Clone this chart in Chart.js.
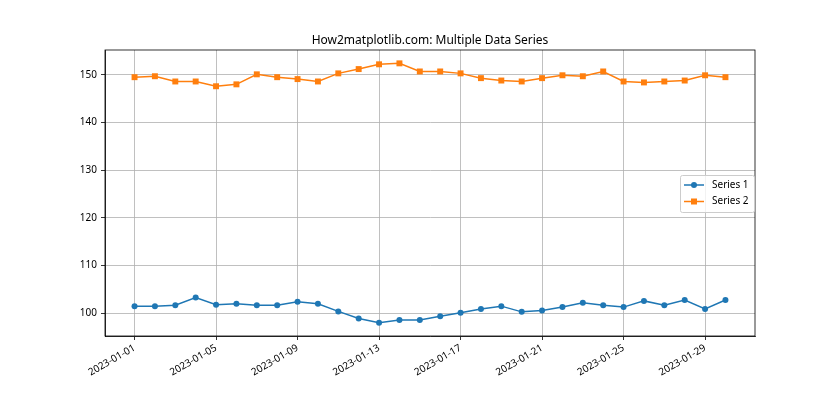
<!DOCTYPE html>
<html><head><meta charset="utf-8">
<script src="https://cdn.jsdelivr.net/npm/chart.js@4/dist/chart.umd.min.js"></script>
<style>html,body{margin:0;padding:0;background:#fff}canvas{display:block}</style>
</head><body>
<canvas id="c" width="840" height="420"></canvas>
<script>
const dates = ["2023-01-01","2023-01-02","2023-01-03","2023-01-04","2023-01-05","2023-01-06","2023-01-07","2023-01-08","2023-01-09","2023-01-10",
"2023-01-11","2023-01-12","2023-01-13","2023-01-14","2023-01-15","2023-01-16","2023-01-17","2023-01-18","2023-01-19","2023-01-20",
"2023-01-21","2023-01-22","2023-01-23","2023-01-24","2023-01-25","2023-01-26","2023-01-27","2023-01-28","2023-01-29","2023-01-30"];
const series1 = [101.5,101.5,101.7,103.3,101.8,102.0,101.7,101.7,102.4,102.0,
100.4,98.9,98.0,98.6,98.6,99.4,100.1,100.9,101.5,100.3,
100.6,101.3,102.2,101.7,101.3,102.6,101.7,102.8,100.9,102.8];
const series2 = [149.5,149.7,148.6,148.6,147.6,148.0,150.1,149.5,149.1,148.6,
150.3,151.2,152.2,152.4,150.7,150.7,150.3,149.3,148.8,148.6,
149.3,149.9,149.7,150.7,148.6,148.4,148.6,148.8,149.9,149.5];
const seriesNames = ["Series 1","Series 2"];
const yTicks = [100,110,120,130,140,150];
const xTickDates = ["2023-01-01","2023-01-05","2023-01-09","2023-01-13","2023-01-17","2023-01-21","2023-01-25","2023-01-29"];
const titleText = "How2matplotlib.com: Multiple Data Series";

const FONT = "'Noto Sans', 'Open Sans', sans-serif";
Chart.defaults.color = '#000';
Chart.defaults.font.family = FONT;

const toPts = arr => arr.map((v,i)=>({x:i,y:v}));

const frame = {
  id:'frame',
  afterDatasetsDraw(chart){
    const a = chart.chartArea, ctx = chart.ctx;
    ctx.save();
    ctx.strokeStyle = '#000'; ctx.lineWidth = 0.8;
    ctx.strokeRect(a.left, a.top, a.right-a.left, a.bottom-a.top);
    ctx.restore();
  },
  afterDraw(chart){
    const ctx = chart.ctx;
    const bx = 680, by = 175, bw = 74, bh = 37;
    ctx.save();
    ctx.fillStyle = 'rgba(255,255,255,0.8)';
    ctx.strokeStyle = '#cccccc'; ctx.lineWidth = 1;
    ctx.beginPath();
    ctx.roundRect(bx+0.5, by+0.5, bw, bh, 2);
    ctx.fill(); ctx.stroke();
    const rows = [185, 201.5];
    chart.data.datasets.forEach((ds, i) => {
      const y = rows[i];
      ctx.strokeStyle = ds.borderColor; ctx.lineWidth = 1.5;
      ctx.beginPath(); ctx.moveTo(684, y); ctx.lineTo(704, y); ctx.stroke();
      ctx.fillStyle = ds.borderColor;
      if (ds.pointStyle === 'rect') { ctx.fillRect(694-3, y-3, 6, 6); }
      else { ctx.beginPath(); ctx.arc(694, y, 3, 0, Math.PI*2); ctx.fill(); }
      ctx.fillStyle = '#000';
      ctx.font = '10px ' + FONT;
      ctx.textBaseline = 'middle'; ctx.textAlign = 'left';
      ctx.fillText(ds.label, 712, y);
    });
    ctx.restore();
  }
};

new Chart(document.getElementById('c'), {
  type:'line',
  data:{
    datasets:[
      {label:seriesNames[0], data:toPts(series1), borderColor:'#1f77b4', backgroundColor:'#1f77b4',
       borderWidth:1.5, pointRadius:3, pointBorderWidth:0, pointStyle:'circle', tension:0, fill:false},
      {label:seriesNames[1], data:toPts(series2), borderColor:'#ff7f0e', backgroundColor:'#ff7f0e',
       borderWidth:1.5, pointRadius:4.2, pointBorderWidth:0, pointStyle:'rect', tension:0, fill:false}
    ]
  },
  options:{
    responsive:false, animation:false, devicePixelRatio:1,
    layout:{padding:{left:20,right:0,top:0,bottom:0}, autoPadding:false},
    plugins:{
      legend:{display:false}, tooltip:{enabled:false},
      title:{display:true, text:titleText, color:'#000', font:{family:FONT,size:12,weight:'normal'}, padding:{top:33,bottom:2.6}}
    },
    scales:{
      x:{type:'linear', min:-1.45, max:30.45,
        afterBuildTicks(s){ s.ticks = xTickDates.map(d=>({value:dates.indexOf(d)})); },
        afterFit(s){ s.height = 84; },
        ticks:{callback:(v)=>dates[v], minRotation:30, maxRotation:30, autoSkip:false, font:{size:10,family:FONT}, color:'#000', padding:2},
        grid:{color:'#b0b0b0', lineWidth:0.8, tickColor:'#000', tickLength:4, drawTicks:true},
        border:{color:'#000', width:0.8}
      },
      y:{type:'linear', position:'left', min:95.24, max:155.2,
        afterBuildTicks(s){ s.ticks = yTicks.map(v=>({value:v})); },
        afterFit(s){ s.width = 85; },
        ticks:{callback:(v)=>String(v), font:{size:10,family:FONT}, color:'#000', padding:4},
        grid:{color:'#b0b0b0', lineWidth:0.8, tickColor:'#000', tickLength:4, drawTicks:true},
        border:{color:'#000', width:0.8}
      },
      yRight:{type:'linear', position:'right', display:true, min:0, max:1,
        afterFit(s){ s.width = 85; },
        ticks:{display:false}, grid:{display:false, drawTicks:false}, border:{display:false}
      }
    }
  },
  plugins:[frame]
});
</script>
</body></html>
